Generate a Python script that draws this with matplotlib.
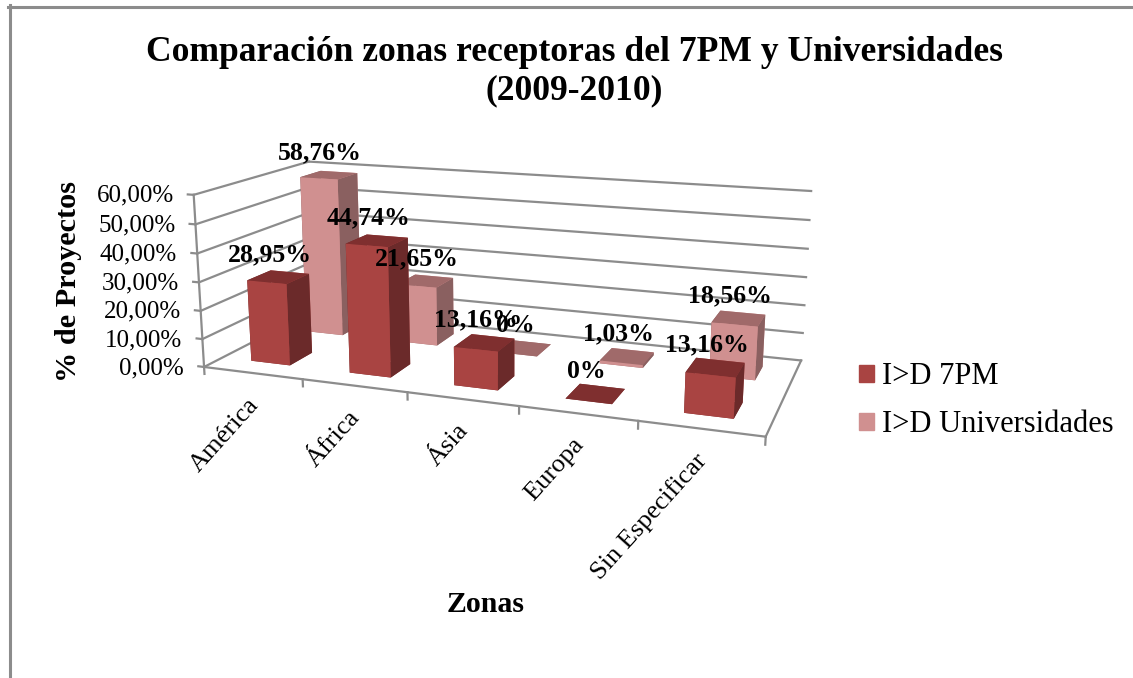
"""Excel style 3D column chart: zonas receptoras del 7PM y Universidades."""
import matplotlib
matplotlib.use("Agg")
import matplotlib.pyplot as plt
from matplotlib.lines import Line2D
from matplotlib.patches import Patch
from mpl_toolkits.mplot3d import proj3d

categories = ["América", "África", "Ásia", "Europa", "Sin Especificar"]
series_names = ["I>D 7PM", "I>D Universidades"]
values_7pm = [28.95, 44.74, 13.16, 0, 13.16]
values_uni = [58.76, 21.65, 0, 1.03, 18.56]
labels_7pm = ["28,95%", "44,74%", "13,16%", "0%", "13,16%"]
labels_uni = ["58,76%", "21,65%", "0%", "1,03%", "18,56%"]
z_ticks = [0, 10, 20, 30, 40, 50, 60]
z_tick_labels = ["0,00%", "10,00%", "20,00%", "30,00%", "40,00%", "50,00%", "60,00%"]

W, H = 1133, 678
GRID = "#8c8c8c"
FACES_7PM = ["#7f2f2f", "#7f2f2f", "#a94442", "#a94442", "#6b2a2a", "#6b2a2a"]
FACES_UNI = ["#a06a6a", "#a06a6a", "#d09090", "#d09090", "#8a6060", "#8a6060"]

plt.rcParams["font.family"] = ["Liberation Serif", "DejaVu Serif"]
fig = plt.figure(figsize=(W / 100, H / 100), dpi=100)
ax = fig.add_axes([189.79 / W, 83.01 / H, 613.92 / W, 613.92 / H], projection="3d")
ax.set_xlim(-0.5, 4.5)
ax.set_ylim(0, 2)
ax.set_zlim(0, 60)
# camera fitted against the corners of the floor and walls in the reference
ax.view_init(13.934, -69.764)
ax.set_proj_type("persp", focal_length=0.3801)
ax.set_box_aspect((3.1951, 1.3094, 1))
ax.set_axis_off()
ax.computed_zorder = False


def edge(xs, ys, zs):
    ax.plot(xs, ys, zs, color=GRID, lw=1.6, zorder=1, clip_on=False)


def label(x, y, z, s, dx=0, dy=0, **kw):
    px, py, _ = proj3d.proj_transform(x, y, z, ax.get_proj())
    ax.annotate(s, xy=(px, py), xycoords="data", xytext=(dx, dy), textcoords="offset pixels",
                annotation_clip=False, zorder=20, **kw)


for z in z_ticks:
    edge([-.5, -.5], [0, 2], [z, z])
    edge([-.5, 4.5], [2, 2], [z, z])
    edge([-.56, -.5], [0, 0], [z, z])
edge([-.5, -.5], [0, 0], [0, 60])
edge([-.5, 4.5], [0, 0], [0, 0])
edge([4.5, 4.5], [0, 2], [0, 0])
for i in range(6):
    edge([i - .5, i - .5], [0, 0], [0, -2.5])

for i in range(5):
    ax.bar3d(i - .2, 1.3, 0, .4, .4, values_uni[i], color=FACES_UNI, shade=False, zorder=2 + i)
for i in range(5):
    ax.bar3d(i - .2, .3, 0, .4, .4, values_7pm[i], color=FACES_7PM, shade=False, zorder=10 + i)

for i in range(5):
    label(i, 1.5, values_uni[i], labels_uni[i], -9, 11, ha="center", va="bottom", fontsize=18.5, fontweight="bold")
    label(i, .5, values_7pm[i], labels_7pm[i], -9, 11, ha="center", va="bottom", fontsize=18.5, fontweight="bold")
for z, s in zip(z_ticks, z_tick_labels):
    label(-.5, 0, z, s, -20, -1, ha="right", va="center", fontsize=18)
for i, s in enumerate(categories):
    label(i, 0, 0, s, 2, -28, ha="right", va="center", rotation=48, rotation_mode="anchor", fontsize=19)

fig.text(574 / W, 1 - 71.5 / H, "Comparación zonas receptoras del 7PM y Universidades\n(2009-2010)",
         ha="center", va="center", fontsize=25.6, fontweight="bold")
fig.text(68 / W, 1 - 281 / H, "% de Proyectos", rotation=90, ha="center", va="center", fontsize=21.8, fontweight="bold")
fig.text(485.5 / W, 1 - 604 / H, "Zonas", ha="center", va="center", fontsize=21.5, fontweight="bold")
fig.legend(handles=[Patch(color=FACES_7PM[2], label=series_names[0]), Patch(color=FACES_UNI[2], label=series_names[1])],
           loc="center left", bbox_to_anchor=(859 / W, 1 - 400.5 / H), frameon=False, fontsize=22,
           handlelength=0.49, handleheight=0.49, handletextpad=0.26, labelspacing=0.62, borderpad=0, borderaxespad=0)
fig.add_artist(Line2D([9.5 / W, 9.5 / W], [0, 1 - 5 / H], color=GRID, lw=2.2))
fig.add_artist(Line2D([8 / W, 1], [1 - 6.5 / H, 1 - 6.5 / H], color=GRID, lw=2.2))
fig.savefig("out.png", dpi=100)
